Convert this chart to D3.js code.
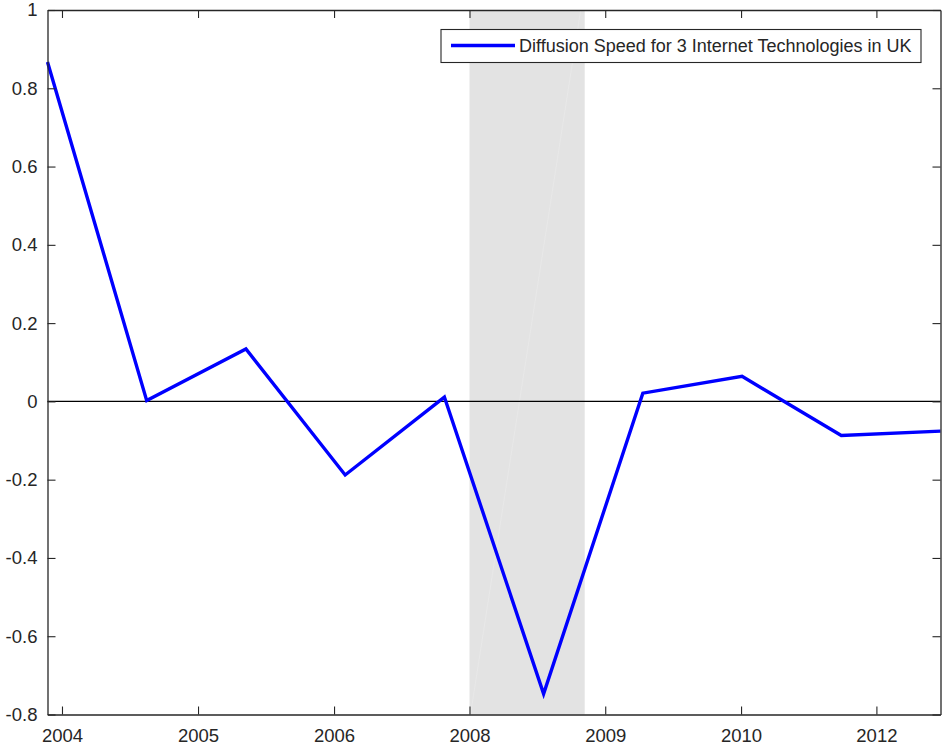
<!DOCTYPE html>
<html>
<head>
<meta charset="utf-8">
<script src="https://cdn.jsdelivr.net/npm/d3@7"></script>
<style>
  body { margin: 0; background: #fff; }
  text { font-family: "Liberation Sans", Arial, sans-serif; fill: #262626; }
</style>
</head>
<body>
<div id="chart"></div>
<script>
const w = 943;
const h = 751;
const plotLeft = 47.5, plotRight = 940.5, plotTop = 10, plotBottom = 714.5;

// quarterly observations, plotted by position index
const pointIdx = [0, 1, 2, 3, 4, 5, 6, 7, 8, 9];
const speed = [0.867, 0.002, 0.134, -0.188, 0.011, -0.747, 0.021, 0.064, -0.087, -0.076];
const tickIdx = [0.146, 1.517, 2.888, 4.253, 5.621, 6.99, 8.354];
const tickLabels = ["2004", "2005", "2006", "2008", "2009", "2010", "2012"];
const yTicks = [-0.8, -0.6, -0.4, -0.2, 0, 0.2, 0.4, 0.6, 0.8, 1];
const shadeIdx = [4.253, 5.414];
const legendLabel = "Diffusion Speed for 3 Internet Technologies in UK";

const svg = d3.select("#chart").append("svg")
  .attr("width", w)
  .attr("height", h);

const x = d3.scaleLinear().domain([0, 9]).range([plotLeft, plotRight]);
const y = d3.scaleLinear().domain([-0.8, 1]).range([plotBottom, plotTop]);

// shaded band
svg.append("rect")
  .attr("x", x(shadeIdx[0]))
  .attr("y", plotTop)
  .attr("width", x(shadeIdx[1]) - x(shadeIdx[0]))
  .attr("height", plotBottom - plotTop)
  .attr("fill", "#e3e3e3");

// faint seam inside the patch
svg.append("line")
  .attr("x1", x(shadeIdx[0]) + 1).attr("y1", plotBottom)
  .attr("x2", x(shadeIdx[1]) - 4).attr("y2", plotTop)
  .attr("stroke", "#e8e8e8")
  .attr("stroke-width", 1);

// zero line
svg.append("line")
  .attr("x1", plotLeft).attr("x2", plotRight)
  .attr("y1", y(0)).attr("y2", y(0))
  .attr("stroke", "#000")
  .attr("stroke-width", 1.3);

// data line
const line = d3.line()
  .x((d, i) => x(pointIdx[i]))
  .y(d => y(d));

svg.append("path")
  .datum(speed)
  .attr("d", line)
  .attr("fill", "none")
  .attr("stroke", "#0000ff")
  .attr("stroke-width", 3.4)
  .attr("stroke-linejoin", "miter");

// axes, matlab box style with ticks on all four sides
const fmt = d => d === 0 ? "0" : String(+d.toFixed(1));

const xAxis = d3.axisBottom(x)
  .tickValues(tickIdx)
  .tickFormat((d, i) => tickLabels[i])
  .tickSizeInner(-8)
  .tickSizeOuter(0)
  .tickPadding(14);

const gx = svg.append("g")
  .attr("transform", "translate(0," + plotBottom + ")")
  .call(xAxis);

const gxTop = svg.append("g")
  .attr("transform", "translate(0," + plotTop + ")")
  .call(d3.axisTop(x).tickValues(tickIdx).tickFormat("").tickSizeInner(-8).tickSizeOuter(0));

const yAxis = d3.axisLeft(y)
  .tickValues(yTicks)
  .tickFormat(fmt)
  .tickSizeInner(-8)
  .tickSizeOuter(0)
  .tickPadding(10);

const gy = svg.append("g")
  .attr("transform", "translate(" + plotLeft + ",0)")
  .call(yAxis);

const gyRight = svg.append("g")
  .attr("transform", "translate(" + plotRight + ",0)")
  .call(d3.axisRight(y).tickValues(yTicks).tickFormat("").tickSizeInner(-8).tickSizeOuter(0));

[gx, gxTop, gy, gyRight].forEach(g => {
  g.select(".domain").attr("stroke", "#262626").attr("stroke-width", 1.3);
  g.selectAll(".tick line").attr("stroke", "#262626").attr("stroke-width", 1.1);
  g.selectAll("text")
    .attr("font-family", "'Liberation Sans', Arial, sans-serif")
    .attr("font-size", 18.5)
    .attr("fill", "#262626");
});

// legend
const lg = svg.append("g");
lg.append("rect")
  .attr("x", 441).attr("y", 29.5)
  .attr("width", 480).attr("height", 33)
  .attr("fill", "#fff")
  .attr("stroke", "#262626")
  .attr("stroke-width", 1.1);
lg.append("line")
  .attr("x1", 451).attr("x2", 515)
  .attr("y1", 45.5).attr("y2", 45.5)
  .attr("stroke", "#0000ff")
  .attr("stroke-width", 3.4);
lg.append("text")
  .attr("x", 519).attr("y", 46)
  .attr("dy", "0.35em")
  .attr("font-size", 18)
  .attr("fill", "#000")
  .text(legendLabel);
</script>
</body>
</html>
